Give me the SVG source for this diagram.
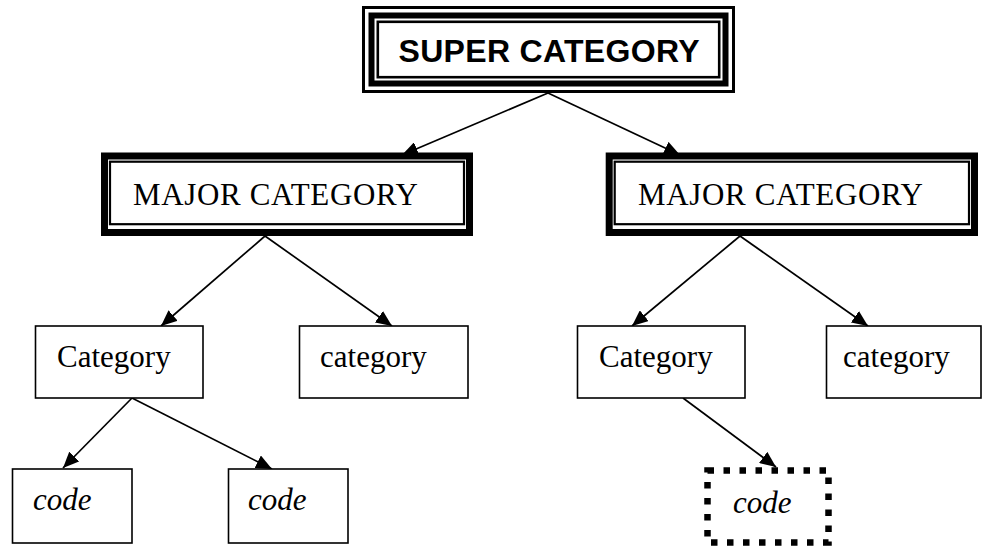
<svg xmlns="http://www.w3.org/2000/svg" width="986" height="546" viewBox="0 0 986 546">
  <style>
    .box { fill: #fff; stroke: #000; stroke-width: 1.6; }
    .edge { stroke: #000; stroke-width: 1.7; fill: none; marker-end: url(#arrow); }
    .serif { font-family: "Liberation Serif", "Times New Roman", serif; font-size: 31px; fill: #000; }
    .ital { font-family: "Liberation Serif", "Times New Roman", serif; font-size: 31px; font-style: italic; fill: #000; }
    .bold { font-family: "Liberation Sans", Arial, sans-serif; font-size: 32px; font-weight: bold; fill: #000; }
  </style>
  <defs>
    <marker id="arrow" viewBox="0 0 16 14" refX="16" refY="7" markerWidth="16" markerHeight="14" markerUnits="userSpaceOnUse" orient="auto">
      <path d="M0,0 L16,7 L0,14 Z" fill="#000"/>
    </marker>
  </defs>

  <rect width="986" height="546" fill="#fff"/>

  <!-- connectors -->
  <g id="connectors">
    <line class="edge" x1="548" y1="93" x2="402" y2="155"/>
    <line class="edge" x1="548" y1="93" x2="680" y2="155"/>
    <line class="edge" x1="265" y1="236" x2="161" y2="326"/>
    <line class="edge" x1="265" y1="236" x2="392" y2="326"/>
    <line class="edge" x1="740" y1="236" x2="632" y2="326"/>
    <line class="edge" x1="740" y1="236" x2="868" y2="326"/>
    <line class="edge" x1="132" y1="398" x2="63" y2="468"/>
    <line class="edge" x1="132" y1="398" x2="272" y2="469"/>
    <line class="edge" x1="683" y1="398" x2="776" y2="467"/>
  </g>

  <!-- super category: triple border -->
  <g id="super">
    <rect x="363.5" y="7.5" width="370" height="84" fill="#fff" stroke="#000" stroke-width="3"/>
    <rect x="371.5" y="15.5" width="354" height="68" fill="none" stroke="#000" stroke-width="6"/>
    <rect x="377.8" y="21.8" width="341.4" height="55.4" fill="none" stroke="#000" stroke-width="2.6"/>
    <text class="bold" x="549" y="62" text-anchor="middle" textLength="301">SUPER CATEGORY</text>
  </g>

  <!-- major categories: thick-thin border -->
  <g id="major-left">
    <rect x="104.5" y="156" width="365" height="76.5" fill="#fff" stroke="#000" stroke-width="7"/>
    <rect x="110" y="161.7" width="354" height="62.5" fill="none" stroke="#000" stroke-width="2.2"/>
    <text class="serif" x="275.5" y="205" text-anchor="middle" textLength="285">MAJOR CATEGORY</text>
  </g>
  <g id="major-right">
    <rect x="609.2" y="156" width="365.3" height="76.5" fill="#fff" stroke="#000" stroke-width="7"/>
    <rect x="614.7" y="161.7" width="354.3" height="62.5" fill="none" stroke="#000" stroke-width="2.2"/>
    <text class="serif" x="780.5" y="205" text-anchor="middle" textLength="285">MAJOR CATEGORY</text>
  </g>

  <!-- categories -->
  <g id="cat-left-1">
    <rect class="box" x="35.5" y="326" width="167.5" height="72"/>
    <text class="serif" x="57" y="367">Category</text>
  </g>
  <g id="cat-left-2">
    <rect class="box" x="299.5" y="326" width="168.5" height="72"/>
    <text class="serif" x="320" y="367">category</text>
  </g>
  <g id="cat-right-1">
    <rect class="box" x="577.5" y="326" width="167.5" height="72"/>
    <text class="serif" x="599" y="367">Category</text>
  </g>
  <g id="cat-right-2">
    <rect class="box" x="826.5" y="326" width="154.5" height="72"/>
    <text class="serif" x="843" y="367">category</text>
  </g>

  <!-- codes -->
  <g id="code-1">
    <rect class="box" x="12.5" y="469" width="119.5" height="74"/>
    <text class="ital" x="33" y="510">code</text>
  </g>
  <g id="code-2">
    <rect class="box" x="228.5" y="469" width="119.5" height="74"/>
    <text class="ital" x="248" y="510">code</text>
  </g>
  <g id="code-3">
    <rect x="707.5" y="470.5" width="121" height="72" fill="#fff" stroke="#000" stroke-width="6.5" stroke-dasharray="6.5 9.5"/>
    <text class="ital" x="733" y="513">code</text>
  </g>
</svg>
